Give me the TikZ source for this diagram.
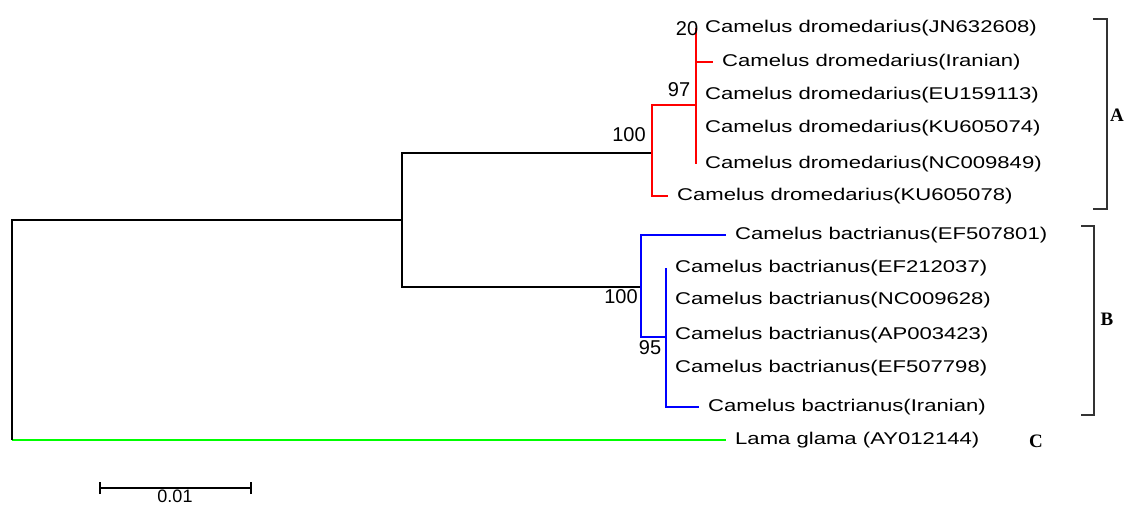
\documentclass[tikz,border=0pt]{standalone}
\usepackage{fontspec}
\setmainfont{Liberation Sans}
\newfontfamily\leaffont[FakeStretch=1.3]{Liberation Sans}
\newfontfamily\cladefont{Liberation Serif}
\usetikzlibrary{positioning}
\tikzset{
  leaf/.style={anchor=west, inner xsep=9pt, inner ysep=0pt, font=\leaffont\fontsize{17}{20}\selectfont},
  boot/.style={inner sep=0pt, font=\fontsize{20}{22}\selectfont},
  clade/.style={inner sep=0pt, font=\cladefont\bfseries\fontsize{19}{21}\selectfont},
  br/.style={line width=1.7pt}
}

\begin{document}
\begin{tikzpicture}[x=1pt,y=-1pt]
\useasboundingbox (0,0) rectangle (1126,506);
% internal nodes
\coordinate (root) at (12,440);
\coordinate (n1) at (402,220);
\coordinate (nA) at (652,153);
\coordinate (nA1) at (696,105);
\coordinate (nB) at (641,287);
\coordinate (nB1) at (666,337);

% leaves
\node[leaf] (a1) at (696,28) {Camelus dromedarius(JN632608)};
\node[leaf] (a2) at (713,62) {Camelus dromedarius(Iranian)};
\node[leaf] (a3) at (696,95) {Camelus dromedarius(EU159113)};
\node[leaf] (a4) at (696,128) {Camelus dromedarius(KU605074)};
\node[leaf] (a5) at (696,164) {Camelus dromedarius(NC009849)};
\node[leaf] (a6) at (668,196) {Camelus dromedarius(KU605078)};
\node[leaf] (b1) at (726,235) {Camelus bactrianus(EF507801)};
\node[leaf] (b2) at (666,268) {Camelus bactrianus(EF212037)};
\node[leaf] (b3) at (666,300) {Camelus bactrianus(NC009628)};
\node[leaf] (b4) at (666,335) {Camelus bactrianus(AP003423)};
\node[leaf] (b5) at (666,368) {Camelus bactrianus(EF507798)};
\node[leaf] (b6) at (699,407) {Camelus bactrianus(Iranian)};
\node[leaf] (lama) at (726,440) {Lama glama (AY012144)};

% branches
\draw[br,green] (root) -- (lama.west);
\draw[br] (root) |- (n1);
\draw[br] (n1) |- (nA);
\draw[br] (n1) |- (nB);
\draw[br,red] (nA) |- (nA1);
\draw[br,red] (nA) |- (a6.west);
\foreach \t in {a1,a2,a3,a4,a5}
  \draw[br,red] (nA1) |- (\t.west);
\draw[br,blue] (nB) |- (b1.west);
\draw[br,blue] (nB) |- (nB1);
\foreach \t in {b2,b3,b4,b5,b6}
  \draw[br,blue] (nB1) |- (\t.west);

% bootstrap values
\node[boot] (bs20) at (687,29) {20};
\node[boot] (bs97) at (679,90) {97};
\node[boot] (bsA) at (629,135) {100};
\node[boot] (bsB) at (621,297) {100};
\node[boot] (bs95) at (650,348) {95};

% clades
\draw[br,black!80] (1093,19) -| (1107,209) -- (1093,209);
\draw[br,black!80] (1081,226) -| (1094,415) -- (1081,415);
\node[clade] (labA) at (1117,115) {A};
\node[clade] (labB) at (1107,319) {B};
\node[clade] (labC) at (1036,441) {C};

% scale bar
\coordinate (s0) at (100,488);
\coordinate (s1) at (251,488);
\draw[br] (s0) -- (s1);
\draw[br] ([yshift=-6pt]s0) -- ([yshift=6pt]s0);
\draw[br] ([yshift=-6pt]s1) -- ([yshift=6pt]s1);
\node[boot, anchor=north, font=\fontsize{18}{18}\selectfont] (sbar) at (175,490) {0.01};
\end{tikzpicture}
\end{document}
